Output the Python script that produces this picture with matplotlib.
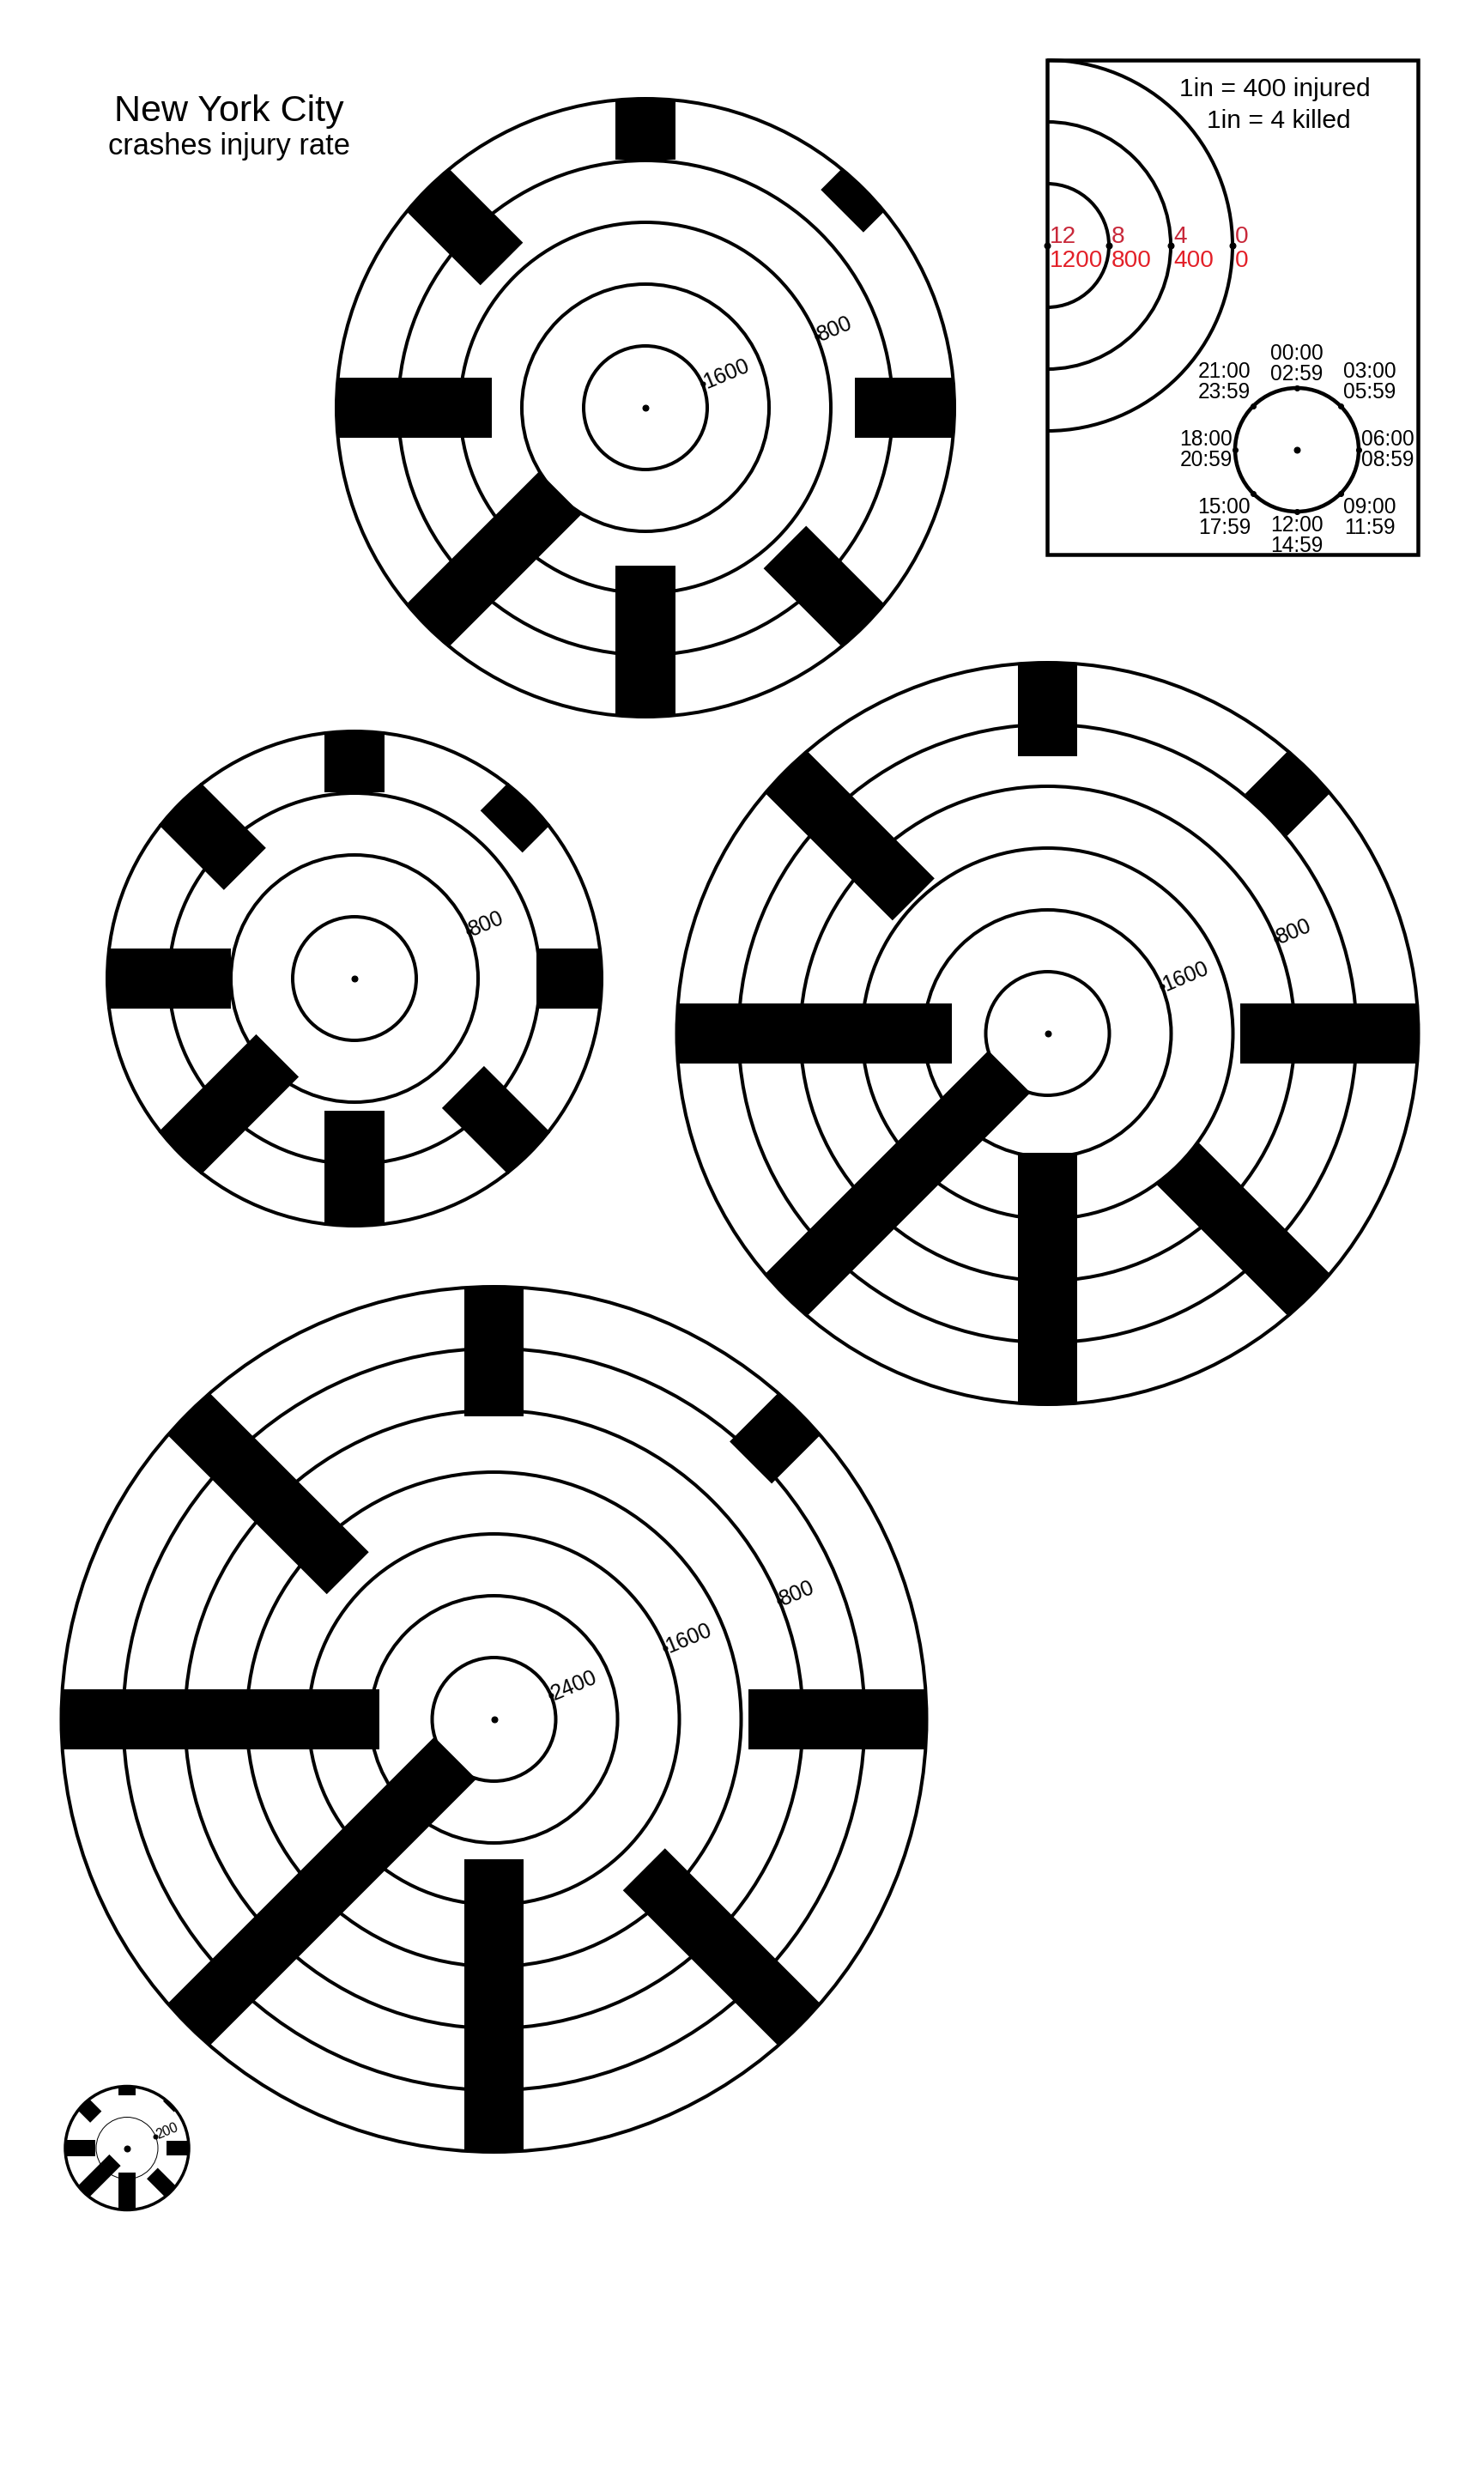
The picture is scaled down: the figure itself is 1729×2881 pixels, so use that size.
import numpy as np
import matplotlib.pyplot as plt
from matplotlib.patches import Circle, Polygon, Arc, Rectangle

# 1 inch on the page = 400 injured (radial) and 4 killed (bar width)
DPI = 72
W_PX, H_PX = 1729, 2881
INJ_PER_IN = 400
KILLED_PER_IN = 4

plt.rcParams['font.family'] = ['Liberation Sans', 'DejaVu Sans']

# 3-hour time bins, clockwise from the top
time_start = ["00:00", "03:00", "06:00", "09:00", "12:00", "15:00", "18:00", "21:00"]
time_end = ["02:59", "05:59", "08:59", "11:59", "14:59", "17:59", "20:59", "23:59"]

# injured per time bin
injured_1 = [395, 200, 644, 724, 976, 1220, 1008, 684]
injured_2 = [394, 255, 420, 607, 744, 895, 802, 597]
injured_3 = [606, 400, 1152, 1208, 1629, 2051, 1781, 1173]
injured_4 = [841, 450, 1152, 1427, 1895, 2446, 2061, 1462]
injured_5 = [58, 20, 143, 169, 242, 290, 195, 115]

# killed per time bin
killed_1 = [3.9, 3.9, 3.9, 3.9, 3.9, 3.9, 3.9, 3.9]
killed_2 = [3.85, 3.85, 3.9, 3.85, 3.85, 3.9, 3.9, 3.85]
killed_3 = [3.85, 3.85, 3.85, 3.85, 3.85, 3.85, 3.85, 3.85]
killed_4 = [3.85, 3.85, 3.85, 3.85, 3.85, 3.85, 3.85, 3.85]
killed_5 = [1.06, 1.0, 0.92, 1.0, 1.12, 1.04, 1.04, 1.04]

# scale of each glyph: value at the centre, ring step, labelled rings
scale_max = [2000, 1600, 2400, 2800, 400]
ring_step = [400, 400, 400, 400, 200]
ring_labels = [[800, 1600], [800], [800, 1600], [800, 1600, 2400], [200]]

# legend scale
legend_killed = [12, 8, 4, 0]
legend_injured = [1200, 800, 400, 0]

# layout (pixels on the page)
centers_px = [(752, 475), (413, 1140), (1220.5, 1204), (575.5, 2003), (148, 2502.5)]

fig = plt.figure(figsize=(W_PX / DPI, H_PX / DPI), dpi=DPI)
ax = fig.add_axes([0, 0, 1, 1])
ax.set_xlim(0, W_PX / DPI)
ax.set_ylim(H_PX / DPI, 0)
ax.set_aspect('equal')
ax.axis('off')


def glyph(cx, cy, injured, killed, vmax, step, labels, lw=4.0, inner_lw=4.0, fs=24):
    R = vmax / INJ_PER_IN
    c = np.array([cx, cy])
    for v in np.arange(0, vmax, step):
        r = (vmax - v) / INJ_PER_IN
        ax.add_patch(Circle(c, r, fill=False, ec='black',
                            lw=lw if v == 0 else inner_lw, zorder=1))
    for k, (inj, kil) in enumerate(zip(injured, killed)):
        th = np.radians(45 * k)
        d = np.array([np.sin(th), -np.cos(th)])
        p = np.array([np.cos(th), np.sin(th)])
        r0 = R - inj / INJ_PER_IN
        hw = kil / KILLED_PER_IN / 2
        pts = [c + d * R + p * hw, c + d * R - p * hw,
               c + d * r0 - p * hw, c + d * r0 + p * hw]
        ax.add_patch(Polygon(pts, closed=True, fc='black', ec='none', zorder=2))
    a = np.radians(22.5)
    for v in labels:
        r = (vmax - v) / INJ_PER_IN
        x, y = cx + r * np.cos(a), cy - r * np.sin(a)
        ax.plot(x, y, 'o', ms=5, color='black', zorder=3)
        ax.text(x + 0.02, y - 0.01, str(v), rotation=22.5, rotation_mode='anchor',
                ha='left', va='center', fontsize=fs, zorder=3)
    ax.plot(cx, cy, 'o', ms=7, color='black', zorder=3)


glyph_data = [
    (injured_1, killed_1), (injured_2, killed_2), (injured_3, killed_3),
    (injured_4, killed_4), (injured_5, killed_5),
]
for i, (inj, kil) in enumerate(glyph_data):
    cx, cy = centers_px[i][0] / DPI, centers_px[i][1] / DPI
    if i == 4:
        glyph(cx, cy, inj, kil, scale_max[i], ring_step[i], ring_labels[i],
              lw=3.5, inner_lw=1.0, fs=16)
    else:
        glyph(cx, cy, inj, kil, scale_max[i], ring_step[i], ring_labels[i], fs=25)

# title
ax.text(267 / DPI, 141 / DPI, "New York City", ha='center', va='baseline', fontsize=43)
ax.text(267 / DPI, 180 / DPI, "crashes injury rate", ha='center', va='baseline', fontsize=34.5)

# legend box
bx, by = 1220 / DPI, 70 / DPI
ax.add_patch(Rectangle((bx, by), 6.0, 8.0, fill=False, ec='black', lw=4.5, zorder=4))
ly = by + 3.0
for kil, inj in zip(legend_killed, legend_injured):
    r = (legend_injured[0] - inj) / INJ_PER_IN
    if r > 0:
        ax.add_patch(Arc((bx, ly), 2 * r, 2 * r, theta1=-90, theta2=90,
                         ec='black', lw=4, zorder=2))
    ax.plot(bx + r, ly, 'o', ms=7, color='black', zorder=3)
    ax.text(bx + r + 0.04, ly - 0.04, str(kil), color='#c8283a', fontsize=28,
            ha='left', va='baseline')
    ax.text(bx + r + 0.04, ly + 0.07, str(inj), color='#e32028', fontsize=28,
            ha='left', va='top')

ax.text(1485 / DPI, 104 / DPI, "1in = 400 injured", ha='center', va='center', fontsize=30)
ax.text(1490 / DPI, 141 / DPI, "1in = 4 killed", ha='center', va='center', fontsize=30)

# clock key
kx, ky = 1511 / DPI, 524 / DPI
ax.add_patch(Circle((kx, ky), 1.0, fill=False, ec='black', lw=4.5, zorder=2))
ax.plot(kx, ky, 'o', ms=7, color='black')
align = [('center', 'bottom'), ('left', 'bottom'), ('left', 'center'), ('left', 'top'),
         ('center', 'top'), ('right', 'top'), ('right', 'center'), ('right', 'bottom')]
for k, (t0, t1) in enumerate(zip(time_start, time_end)):
    th = np.radians(45 * k)
    x, y = kx + np.sin(th), ky - np.cos(th)
    ax.plot(x, y, 'o', ms=6, color='black', zorder=3)
    ha, va = align[k]
    ox = {'left': 0.04, 'right': -0.04, 'center': 0}[ha]
    oy = {'bottom': -0.05, 'top': 0.05, 'center': 0}[va]
    ax.text(x + ox, y + oy, t0 + "\n" + t1, ha=ha, va=va, fontsize=24.5,
            linespacing=1.0, multialignment='center')

fig.savefig('out.png', dpi=DPI, facecolor='white')
